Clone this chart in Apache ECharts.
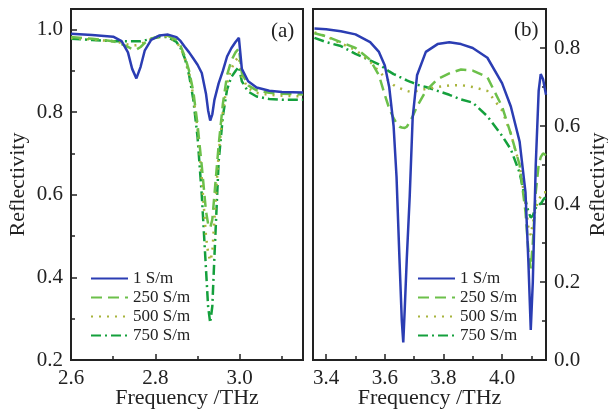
<!DOCTYPE html>
<html>
<head>
<meta charset="utf-8">
<script src="https://cdn.jsdelivr.net/npm/echarts@6/dist/echarts.min.js"></script>
<style>
  html, body { margin: 0; padding: 0; background: #fff; }
  #chart { width: 608px; height: 413px; }
</style>
</head>
<body>
<div id="chart"></div>
<script>
// panel (a): 2.6 - 3.15 THz
const freqA = [2.60, 2.65, 2.70, 2.72, 2.735, 2.745, 2.755, 2.765, 2.775, 2.79, 2.81, 2.83, 2.85, 2.86, 2.87, 2.88, 2.89, 2.90, 2.91, 2.92, 2.925, 2.93, 2.935, 2.94, 2.95, 2.96, 2.97, 2.98, 2.99, 2.998, 3.005, 3.02, 3.04, 3.07, 3.10, 3.15]
const a1 = [0.990, 0.987, 0.983, 0.972, 0.945, 0.905, 0.882, 0.910, 0.950, 0.975, 0.986, 0.988, 0.982, 0.972, 0.958, 0.945, 0.930, 0.915, 0.895, 0.845, 0.805, 0.780, 0.795, 0.830, 0.870, 0.900, 0.935, 0.955, 0.970, 0.980, 0.905, 0.875, 0.860, 0.852, 0.849, 0.848]
const a250 = [0.982, 0.978, 0.972, 0.965, 0.958, 0.953, 0.952, 0.958, 0.968, 0.978, 0.985, 0.985, 0.975, 0.960, 0.935, 0.900, 0.850, 0.770, 0.670, 0.560, 0.530, 0.520, 0.540, 0.600, 0.720, 0.820, 0.890, 0.925, 0.945, 0.955, 0.895, 0.865, 0.853, 0.847, 0.845, 0.843]
const a500 = [0.980, 0.976, 0.972, 0.968, 0.964, 0.962, 0.962, 0.965, 0.970, 0.977, 0.983, 0.984, 0.970, 0.955, 0.930, 0.895, 0.840, 0.760, 0.640, 0.500, 0.460, 0.440, 0.460, 0.540, 0.700, 0.800, 0.870, 0.905, 0.925, 0.935, 0.885, 0.858, 0.847, 0.842, 0.840, 0.838]
const a750 = [0.978, 0.975, 0.972, 0.972, 0.972, 0.972, 0.972, 0.972, 0.974, 0.978, 0.982, 0.982, 0.970, 0.955, 0.930, 0.890, 0.830, 0.740, 0.600, 0.420, 0.330, 0.290, 0.330, 0.450, 0.680, 0.790, 0.855, 0.885, 0.900, 0.910, 0.875, 0.850, 0.838, 0.832, 0.830, 0.830]

// panel (b): 3.36 - 4.15 THz
const freqB = [3.36, 3.40, 3.45, 3.50, 3.55, 3.58, 3.60, 3.615, 3.63, 3.64, 3.65, 3.658, 3.663, 3.668, 3.675, 3.685, 3.695, 3.71, 3.74, 3.78, 3.82, 3.86, 3.90, 3.95, 4.00, 4.03, 4.06, 4.08, 4.09, 4.098, 4.105, 4.115, 4.125, 4.132, 4.14, 4.15]
const b1 = [0.850, 0.848, 0.843, 0.835, 0.815, 0.790, 0.755, 0.700, 0.600, 0.470, 0.260, 0.100, 0.045, 0.130, 0.260, 0.420, 0.620, 0.730, 0.790, 0.810, 0.815, 0.810, 0.800, 0.775, 0.710, 0.650, 0.560, 0.430, 0.250, 0.077, 0.200, 0.500, 0.690, 0.733, 0.720, 0.680]
const b250 = [0.838, 0.830, 0.815, 0.800, 0.770, 0.730, 0.680, 0.645, 0.620, 0.607, 0.598, 0.596, 0.595, 0.595, 0.598, 0.610, 0.625, 0.650, 0.690, 0.720, 0.735, 0.745, 0.742, 0.725, 0.650, 0.580, 0.500, 0.380, 0.280, 0.235, 0.300, 0.430, 0.500, 0.520, 0.530, 0.525]
const b500 = [0.840, 0.830, 0.812, 0.795, 0.765, 0.740, 0.725, 0.715, 0.705, 0.700, 0.697, 0.695, 0.694, 0.692, 0.690, 0.688, 0.688, 0.690, 0.695, 0.700, 0.704, 0.705, 0.700, 0.690, 0.640, 0.580, 0.500, 0.400, 0.340, 0.320, 0.350, 0.390, 0.410, 0.420, 0.430, 0.430]
const b750 = [0.826, 0.815, 0.805, 0.785, 0.768, 0.758, 0.748, 0.740, 0.733, 0.730, 0.726, 0.723, 0.721, 0.720, 0.717, 0.714, 0.711, 0.706, 0.700, 0.690, 0.680, 0.668, 0.660, 0.625, 0.575, 0.540, 0.480, 0.410, 0.380, 0.365, 0.370, 0.390, 0.400, 0.400, 0.410, 0.420]

const names = ['1 S/m', '250 S/m', '500 S/m', '750 S/m']
const ticksXA = [2.6, 2.8, 3.0]
const minorXA = [2.7, 2.9, 3.1]
const ticksYA = [0.2, 0.4, 0.6, 0.8, 1.0]
const minorYA = [0.3, 0.5, 0.7, 0.9]
const ticksXB = [3.4, 3.6, 3.8, 4.0]
const minorXB = [3.5, 3.7, 3.9, 4.1]
const ticksYB = [0.0, 0.2, 0.4, 0.6, 0.8]
const minorYB = [0.1, 0.3, 0.5, 0.7]

const FONT = 'Liberation Serif'
const INK = '#222'
const styles = [
  { color: '#2b3db3', type: 'solid' },
  { color: '#6cc04a', type: [11, 6] },
  { color: '#a8b43c', type: [2, 6] },
  { color: '#14a03c', type: [10, 4, 2, 4] }
]

const zip = (xs, ys) => xs.map((x, i) => [x, ys[i]])

// main axis (labels + major ticks) and an overlay axis for the minor ticks
const mkAxis = (idx, min, max, major, minor, extra) => {
  const base = {
    type: 'value', min, max, gridIndex: idx,
    axisLine: { show: false },
    splitLine: { show: false }
  }
  return [
    Object.assign({}, base, {
      axisTick: { inside: true, length: 6, customValues: major, lineStyle: { color: INK, width: 1.5 } },
      axisLabel: {
        customValues: major, color: INK, fontFamily: FONT, fontSize: 21, margin: 8,
        formatter: v => v.toFixed(1)
      },
      nameMoveOverlap: false,
      nameTextStyle: { color: INK, fontFamily: FONT, fontSize: 22 }
    }, extra),
    Object.assign({}, base, {
      position: extra.position,
      axisTick: { inside: true, length: 4, customValues: minor, lineStyle: { color: INK, width: 1.5 } },
      axisLabel: { show: false }
    })
  ]
}

const xAxes = [
  ...mkAxis(0, 2.6, 3.15, ticksXA, minorXA, { position: 'bottom', name: 'Frequency /THz', nameLocation: 'middle', nameGap: 27 }),
  ...mkAxis(1, 3.355, 4.15, ticksXB, minorXB, { position: 'bottom', name: 'Frequency /THz', nameLocation: 'middle', nameGap: 27 })
]
const yAxes = [
  ...mkAxis(0, 0.2, 1.05, ticksYA, minorYA, { position: 'left', name: 'Reflectivity', nameLocation: 'middle', nameRotate: 90, nameGap: 42 }),
  ...mkAxis(1, 0, 0.9, ticksYB, minorYB, { position: 'right', name: 'Reflectivity', nameLocation: 'middle', nameRotate: 90, nameGap: 41 })
]

const panelSeries = (gi, xs, sets) => sets.map((ys, i) => ({
  name: names[i],
  type: 'line',
  xAxisIndex: gi * 2,
  yAxisIndex: gi * 2,
  data: zip(xs, ys),
  symbol: 'none',
  lineStyle: { color: styles[i].color, type: styles[i].type, width: 2.5 },
  itemStyle: { color: styles[i].color },
  z: 4 - i
}))

const legendBox = (left) => ({
  data: names,
  orient: 'vertical',
  left, top: 270, padding: 0,
  itemWidth: 37, itemHeight: 12, itemGap: 2,
  selectedMode: false,
  itemStyle: { opacity: 0 },
  textStyle: { color: INK, fontFamily: FONT, fontSize: 17 }
})

const chart = echarts.init(document.getElementById('chart'))
chart.setOption({
  animation: false,
  backgroundColor: '#fff',
  grid: [
    { left: 71, top: 9, width: 232, height: 351, show: true, borderColor: INK, borderWidth: 2, outerBoundsMode: 'none' },
    { left: 313, top: 9, width: 233, height: 351, show: true, borderColor: INK, borderWidth: 2, outerBoundsMode: 'none' }
  ],
  xAxis: xAxes,
  yAxis: yAxes,
  legend: [legendBox(90), legendBox(417)],
  graphic: [
    { type: 'text', left: 271, top: 21, style: { text: '(a)', fill: INK, font: '21px "Liberation Serif"' } },
    { type: 'text', left: 514, top: 20, style: { text: '(b)', fill: INK, font: '21px "Liberation Serif"' } }
  ],
  series: [
    ...panelSeries(0, freqA, [a1, a250, a500, a750]),
    ...panelSeries(1, freqB, [b1, b250, b500, b750])
  ]
})
</script>
</body>
</html>
